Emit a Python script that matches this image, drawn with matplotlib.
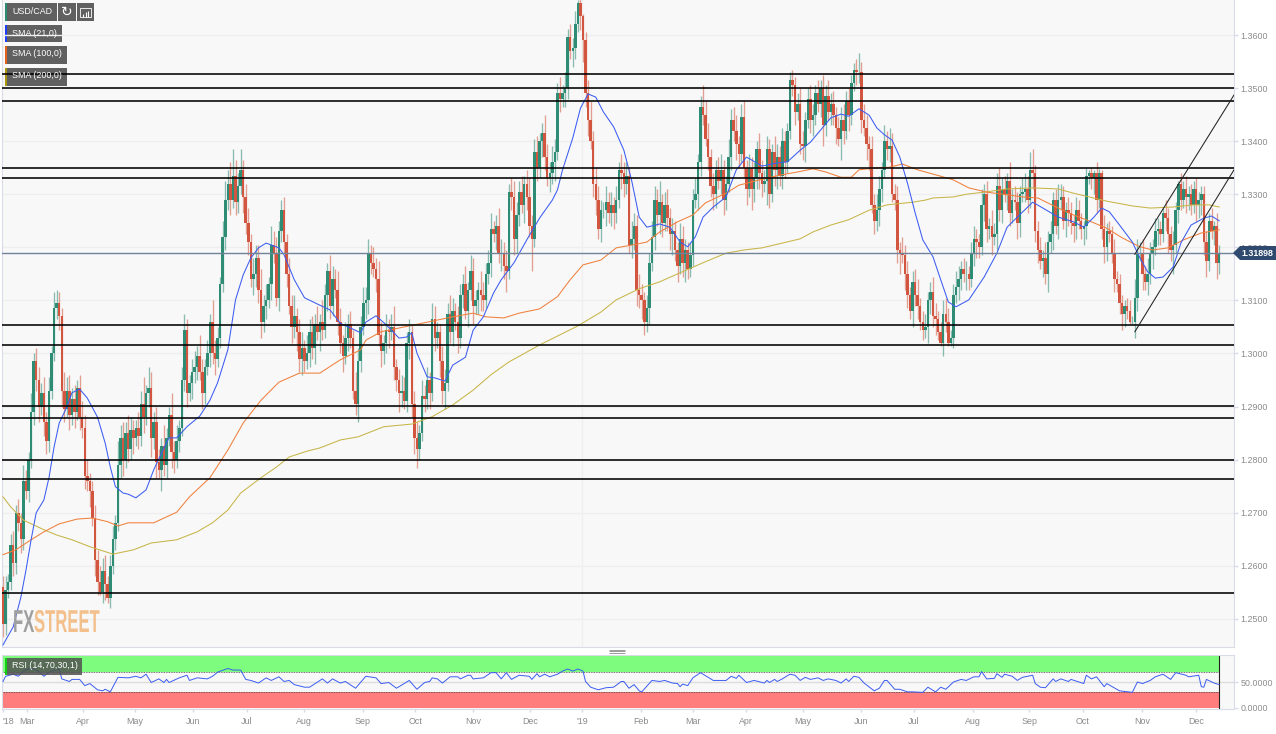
import matplotlib
matplotlib.use('Agg')
import matplotlib.pyplot as plt
import matplotlib.patheffects as pe
from matplotlib.patches import Rectangle, Polygon
from matplotlib.transforms import Affine2D

# all prices in pips above 1.0000 (2500 = 1.2500), one candle per row slot
first_open = 2560
closes = [
    2490,2555,2570,2640,2605,2700,2680,2650,2760,2740,
    2800,2890,2985,2950,2900,2925,2870,2835,2930,3000,
    3085,3095,3070,2930,2895,2930,2885,2915,2890,2935,
    2880,2860,2770,2760,2740,2690,2610,2570,2550,2590,
    2565,2540,2600,2650,2680,2790,2840,2800,2850,2820,
    2855,2840,2860,2845,2905,2880,2925,2935,2840,2870,
    2795,2780,2825,2790,2840,2885,2815,2800,2835,2860,
    2950,3045,2925,2945,2965,2975,2995,2965,2925,2975,
    3000,3060,3000,2990,3030,3130,3220,3290,3320,3290,
    3335,3285,3315,3345,3295,3245,3210,3140,3150,3180,
    3120,3060,3090,3100,3130,3205,3190,3105,3230,3270,
    3210,3150,3090,3050,3070,3040,2990,3010,2985,3000,
    3040,3010,3055,3040,3060,3045,3110,3155,3090,3140,
    3120,3060,3020,2995,3030,3055,3030,2930,2905,2985,
    3050,3095,3100,3190,3170,3160,3140,3035,3005,3020,
    3045,3040,3050,2975,2950,2925,2930,2910,3020,3040,
    2905,2840,2820,2850,2920,2915,2950,2925,3065,3030,
    3040,2985,2930,2945,3075,3040,3080,3060,3030,3110,
    3130,3080,3120,3155,3090,3100,3120,3110,3100,3150,
    3170,3235,3225,3240,3190,3190,3165,3155,3305,3295,
    3215,3260,3305,3280,3320,3295,3240,3215,3380,3350,
    3400,3415,3370,3330,3340,3360,3380,3490,3480,3490,
    3500,3596,3570,3575,3620,3660,3635,3590,3490,3440,
    3400,3320,3290,3235,3270,3270,3285,3265,3280,3265,
    3290,3345,3340,3320,3335,3205,3215,3240,3120,3110,
    3100,3060,3085,3170,3220,3290,3260,3285,3245,3280,
    3255,3225,3230,3195,3165,3215,3170,3195,3160,3185,
    3290,3300,3360,3465,3450,3405,3370,3315,3300,3345,
    3325,3345,3290,3320,3370,3440,3420,3395,3375,3445,
    3350,3310,3350,3310,3330,3385,3340,3320,3325,3385,
    3300,3380,3345,3370,3335,3400,3360,3420,3515,3505,
    3455,3470,3395,3390,3440,3480,3440,3450,3490,3470,
    3500,3430,3485,3455,3470,3450,3425,3405,3440,3420,
    3475,3450,3510,3535,3530,3530,3440,3425,3395,3385,
    3280,3250,3270,3310,3345,3400,3385,3390,3300,3290,
    3195,3190,3185,3150,3110,3080,3135,3110,3090,3060,
    3045,3050,3100,3115,3070,3065,3040,3020,3075,3060,
    3020,3030,3110,3125,3140,3160,3150,3150,3140,3190,
    3215,3210,3200,3280,3300,3235,3240,3220,3225,3315,
    3270,3310,3300,3325,3265,3290,3285,3245,3300,3305,
    3310,3290,3345,3340,3230,3195,3175,3180,3150,3210,
    3225,3290,3240,3290,3295,3250,3270,3265,3245,3240,
    3270,3250,3235,3240,3335,3340,3330,3340,3290,3340,
    3235,3200,3230,3225,3190,3140,3130,3095,3075,3090,
    3080,3060,3060,3105,3190,3190,3150,3135,3150,3190,
    3200,3230,3235,3225,3265,3255,3225,3195,3205,3270,
    3320,3290,3310,3295,3300,3280,3310,3280,3290,3300,
    3210,3175,3250,3230,3240,3170,3190,
]
upper_wick = [
    20,25,15,20,25,15,25,20,30,20,
    15,35,15,25,25,20,30,20,25,15,
    30,25,20,15,35,25,30,20,25,15,
    25,30,25,30,15,20,25,20,30,25,
    30,15,20,25,15,45,25,30,20,35,
    25,20,15,30,25,50,15,40,30,20,
    30,25,15,40,20,15,40,20,30,15,
    25,30,20,15,25,30,20,40,25,15,
    25,15,40,25,20,15,30,35,25,40,
    50,30,25,40,20,25,30,15,30,25,
    25,40,20,30,15,35,25,30,20,20,
    25,15,30,20,40,15,25,30,15,35,
    25,30,20,35,15,40,20,15,30,25,
    20,35,25,15,30,20,25,15,35,25,
    20,30,25,25,15,30,20,35,25,15,
    30,20,25,40,15,20,30,25,20,25,
    15,25,30,15,30,20,25,15,30,25,
    20,15,30,25,20,35,25,15,30,20,
    20,35,15,30,25,20,15,35,25,20,
    25,30,15,20,35,25,20,30,15,25,
    30,25,20,30,15,25,35,20,25,30,
    15,20,35,25,20,30,25,20,30,15,
    30,15,25,20,25,6,20,5,15,25,
    35,20,30,25,20,15,30,20,25,15,
    25,15,30,20,25,15,35,25,20,30,
    20,15,25,20,30,25,20,40,15,25,
    30,20,25,20,15,30,25,20,15,25,
    20,30,15,20,40,25,30,15,25,20,
    25,30,20,15,35,20,25,30,15,25,
    30,15,25,20,30,15,30,25,20,25,
    20,15,30,25,20,25,20,15,15,20,
    15,20,30,25,15,20,25,20,15,25,
    15,25,20,30,20,25,15,20,25,30,
    20,25,15,12,20,36,20,30,25,15,
    25,20,30,25,15,30,20,35,25,20,
    25,15,30,20,25,15,20,25,30,15,
    20,25,15,20,30,25,15,20,25,30,
    25,15,20,30,25,15,20,25,15,20,
    25,20,15,30,20,25,15,30,20,25,
    35,20,25,15,35,20,25,20,15,25,
    30,25,35,40,15,20,25,15,30,20,
    25,15,20,30,25,20,15,25,20,15,
    25,20,15,10,15,5,10,5,20,8,
    5,25,15,20,15,25,15,20,15,10,
    15,20,10,35,25,20,25,15,30,20,
    15,25,20,15,10,25,20,15,25,15,
    5,20,15,25,15,20,15,20,15,15,
    15,20,15,25,10,25,15,
]
lower_wick = [
    25,20,15,15,25,20,15,25,20,15,
    20,15,25,20,30,15,25,25,20,15,
    15,20,25,30,25,15,30,20,30,15,
    25,20,25,20,30,15,30,25,5,20,
    30,10,20,15,20,15,25,30,15,25,
    20,30,15,25,20,30,15,25,35,20,
    30,15,40,20,25,15,30,25,15,20,
    15,20,25,15,30,20,25,15,30,20,
    15,25,20,30,15,20,15,25,20,30,
    15,25,20,15,30,20,25,15,30,25,
    25,30,20,25,15,30,20,15,25,20,
    20,25,15,30,20,35,25,30,20,15,
    25,20,30,15,35,20,15,30,25,20,
    15,25,20,30,15,25,20,15,20,35,
    20,15,30,25,20,15,25,20,30,25,
    20,30,15,25,20,35,25,15,20,30,
    25,30,35,20,15,25,20,30,15,25,
    20,30,25,35,15,20,25,15,30,20,
    25,15,30,20,35,15,25,30,20,15,
    20,25,15,30,20,35,25,40,15,25,
    30,25,20,15,35,25,20,60,15,25,
    20,30,25,15,25,20,35,15,25,15,
    25,20,15,30,20,15,25,40,25,30,
    15,25,30,20,25,15,30,20,25,30,
    20,15,30,25,20,15,25,20,30,25,
    35,25,20,30,15,25,20,35,25,15,
    25,30,40,20,30,15,25,35,20,15,
    20,15,30,25,20,15,25,20,30,25,
    15,25,30,20,15,25,20,30,25,15,
    20,30,15,40,25,20,30,25,15,45,
    25,15,30,35,20,25,30,20,15,20,
    25,15,20,25,30,15,25,30,20,15,
    25,40,20,15,25,20,30,15,40,25,
    15,30,20,15,25,20,25,15,30,40,
    15,25,20,30,25,15,20,25,15,20,
    25,40,15,30,25,15,30,20,25,15,
    20,15,30,25,20,30,15,5,25,20,
    5,5,20,15,25,20,15,30,20,15,
    25,30,20,15,30,25,20,35,15,30,
    20,25,15,30,25,20,15,30,25,15,
    20,25,15,30,20,25,15,30,20,35,
    20,30,15,25,20,15,30,25,20,30,
    25,15,20,30,25,15,20,30,25,15,
    20,30,25,15,20,25,15,20,30,25,
    15,5,5,30,25,15,30,15,25,20,
    30,15,25,20,15,25,35,20,45,15,
    25,20,15,30,25,20,15,30,25,30,
    25,30,20,15,25,30,20,
]

sma21_idx = [0,4,7,9,11,13,16,18,20,22,25,27,30,33,37,40,42,44,47,49,52,56,59,63,65,68,72,77,81,84,88,91,94,97,100,103,108,110,114,118,124,128,132,136,140,142,146,150,155,158,160,162,166,169,173,176,181,184,188,192,195,200,205,210,215,217,219,223,226,229,232,235,239,243,246,249,252,257,261,265,268,271,274,278,283,287,291,295,297,303,307,312,316,320,324,328,331,335,339,342,345,348,351,354,357,360,364,367,370,373,378,384,389,393,397,403,407,413,419,423,427,430,433,437,442,445,448,451,454,458,461,465,470,473,476]
sma21_val = [2451,2485,2541,2592,2649,2700,2724,2766,2824,2869,2899,2926,2933,2916,2880,2831,2786,2749,2737,2735,2728,2743,2781,2822,2841,2841,2862,2882,2912,2945,3007,3101,3148,3180,3199,3208,3199,3186,3139,3105,3091,3082,3057,3048,3039,3059,3071,3054,3029,3031,3039,3001,2956,2954,2948,2978,2993,3044,3069,3114,3139,3171,3214,3255,3289,3308,3346,3406,3462,3489,3483,3455,3427,3383,3327,3257,3238,3244,3238,3210,3201,3220,3257,3276,3295,3346,3370,3359,3353,3359,3361,3383,3398,3421,3444,3451,3447,3461,3449,3425,3412,3402,3370,3321,3265,3214,3182,3139,3097,3088,3101,3144,3189,3238,3257,3285,3274,3257,3248,3238,3257,3274,3267,3242,3210,3180,3154,3142,3144,3163,3208,3242,3255,3259,3250]

sma100_idx = [0,5,11,16,22,29,35,41,45,49,59,68,73,81,88,94,101,108,116,124,132,140,142,148,159,168,176,184,189,196,202,210,217,222,227,234,240,248,252,257,264,270,275,283,288,296,304,311,317,322,328,332,335,340,347,352,358,367,372,378,385,393,399,405,413,419,425,432,438,445,450,456,462,469,476]
sma100_val = [2621,2630,2649,2664,2679,2688,2690,2683,2675,2681,2681,2701,2730,2766,2818,2869,2912,2946,2963,2963,2988,3007,3025,3041,3052,3061,3069,3076,3069,3067,3076,3084,3107,3139,3167,3176,3199,3206,3210,3229,3248,3261,3284,3302,3317,3327,3336,3342,3348,3342,3332,3332,3346,3349,3351,3357,3346,3334,3327,3312,3304,3299,3295,3293,3274,3261,3250,3236,3218,3201,3195,3199,3214,3227,3233]

sma200_idx = [0,3,8,16,21,27,34,43,51,58,68,76,82,88,93,101,107,112,119,124,132,139,149,160,168,176,184,191,198,210,225,234,240,249,257,265,274,283,290,297,305,312,317,324,331,339,346,356,361,364,372,377,384,393,403,413,419,432,442,449,458,466,472,476]
sma200_val = [2730,2711,2686,2668,2658,2649,2636,2622,2630,2643,2649,2664,2681,2705,2737,2766,2786,2805,2816,2822,2837,2843,2862,2867,2881,2903,2931,2960,2984,3016,3052,3078,3101,3122,3135,3152,3171,3189,3195,3199,3208,3216,3229,3242,3252,3270,3280,3285,3289,3293,3295,3300,3304,3310,3312,3310,3302,3287,3278,3274,3276,3280,3280,3276]

rsi_idx = [0,1,4,6,8,10,12,14,16,18,22,23,26,27,30,32,34,37,39,40,42,45,49,52,54,56,58,61,63,64,65,69,72,73,76,80,82,84,88,90,93,95,97,100,103,105,108,110,112,114,118,120,125,127,129,132,134,138,142,146,148,151,154,159,162,165,167,168,170,172,175,178,179,182,183,184,188,191,193,195,197,199,202,206,207,209,210,212,214,217,219,221,223,225,227,228,230,233,236,239,242,243,245,247,249,250,254,257,259,262,264,265,266,268,270,273,278,283,285,287,288,291,294,298,299,300,302,303,305,308,310,312,314,316,319,321,323,326,328,330,331,333,335,337,341,343,345,346,349,351,354,356,360,362,365,367,369,372,375,377,380,382,383,385,388,389,391,392,395,397,399,403,404,406,408,411,412,414,417,418,423,424,426,428,431,432,437,442,444,446,449,451,454,457,459,463,464,468,469,470,471,474,476]
rsi_val = [51,61,65,61,71,75,76,70,61,69,75,56,51,55,55,43,47,35,33,36,31,59,58,61,58,65,49,56,49,55,49,58,63,53,58,56,61,69,76,73,73,55,53,48,58,53,60,51,53,45,40,40,56,48,56,48,51,38,61,58,47,49,38,53,36,49,51,58,56,48,60,60,56,63,63,56,58,68,68,56,68,55,63,61,55,66,60,65,60,65,71,75,71,75,71,51,40,35,39,40,51,51,38,45,33,31,53,51,53,48,47,41,46,43,58,68,53,53,61,57,63,49,53,48,53,49,55,51,56,65,63,53,59,55,58,53,56,53,48,56,51,61,59,48,33,38,53,53,36,36,31,31,30,40,31,40,36,50,55,53,60,60,70,56,57,66,59,65,61,53,59,63,47,40,39,56,51,56,51,55,47,63,56,60,41,47,33,30,50,47,53,60,65,55,68,63,60,63,41,40,55,48,45]

level_lines = [3527,3500,3476,3349,3331,3054,3016,2902,2879,2799,2764,2548]
channel_lines = [([443,481.8],[3041,3346]), ([443,481.8],[3187,3487])]
last_price = 1.31898

price_ticks = [1.25,1.26,1.27,1.28,1.29,1.30,1.31,1.32,1.33,1.34,1.35,1.36]
month_ticks = [0,9.4,31.3,51.7,74.4,95.5,117.8,140.9,161.3,184,206.3,226.6,249.7,270,290.8,313,336,356.5,379.6,401.6,422.7,445.8,467]
month_labels = ["'18",'Mar','Apr','May','Jun','Jul','Aug','Sep','Oct','Nov','Dec',"'19",'Feb','Mar','Apr','May','Jun','Jul','Aug','Sep','Oct','Nov','Dec']

UP = '#2e8b74'
DOWN = '#d2553f'
PANEL = '#f8f8f8'
FRAME = '#d9dbe8'
GREY = '#8a8a8a'
LABEL = 6.4


def px(values):
    return [1 + v / 10000 for v in values]


class Stretch(pe.AbstractPathEffect):
    # the logo is a tall narrow face, none of the installed ones has that shape
    def __init__(self, sy):
        super().__init__()
        self.sy = sy

    def draw_path(self, renderer, gc, tpath, affine, rgbFace=None):
        renderer.draw_path(gc, tpath, Affine2D().scale(1, self.sy) + affine, rgbFace)


plt.rcParams['font.family'] = ['Liberation Sans', 'DejaVu Sans']
fig = plt.figure(figsize=(12.76, 7.34), dpi=100, facecolor='white')

# back layer in pixel coordinates: panels and legend chips sit under the lines
back = fig.add_axes([0, 0, 1, 1], zorder=0)
back.set_xlim(0, 1276)
back.set_ylim(734, 0)
back.axis('off')
back.add_patch(Rectangle((2, 0), 1232, 647, fc=PANEL, ec='none'))
back.add_patch(Rectangle((2, 655), 1232, 54, fc=PANEL, ec='none'))
chips = [(5, 3, 52, 18, '#2e8b74'), (5, 25, 57, 17, '#1f3fff'), (5, 46, 62, 18, '#e0601f'), (5, 68, 62, 18, '#a8960f')]
for x0, y0, w, h, accent in chips:
    back.add_patch(Rectangle((x0, y0), w, h, fc='#606060', ec='none'))
    back.add_patch(Rectangle((x0, y0), 2, h, fc=accent, ec='none'))
back.add_patch(Rectangle((58, 3), 18, 18, fc='#606060', ec='none'))
back.add_patch(Rectangle((77, 3), 17, 18, fc='#606060', ec='none'))

ax = fig.add_axes([2 / 1276, 1 - 647 / 734, 1232 / 1276, 647 / 734], zorder=1)
ax.patch.set_alpha(0)
ax.set_xlim(-0.39, 481.8)
ax.set_ylim(1.2447, 1.3666)

opens = [first_open] + closes[:-1]
idx = list(range(len(closes)))
tops = [max(o, c) for o, c in zip(opens, closes)]
bottoms = [min(o, c) for o, c in zip(opens, closes)]
highs = [t + u for t, u in zip(tops, upper_wick)]
lows = [b - d for b, d in zip(bottoms, lower_wick)]
colors = [UP if c >= o else DOWN for o, c in zip(opens, closes)]

ax.set_yticks(price_ticks)
ax.set_yticklabels(['%.4f' % p for p in price_ticks])
ax.grid(axis='y', color='#eeeeee', lw=1)
ax.set_axisbelow(True)
ax.axvline(month_ticks[11], color='#efefef', lw=1, zorder=0)
ax.vlines(idx, px(lows), px(highs), colors=colors, lw=0.95, alpha=0.55, zorder=2)
ax.bar(idx, [(t - b) / 10000 for t, b in zip(tops, bottoms)], bottom=px(bottoms),
       width=0.98, color=colors, lw=0, zorder=3)

ax.plot(sma200_idx, px(sma200_val), color='#c8b548', lw=0.75, zorder=4)
ax.plot(sma100_idx, px(sma100_val), color='#f0803c', lw=0.75, zorder=4)
ax.plot(sma21_idx, px(sma21_val), color='#3b5cf2', lw=0.75, zorder=4)
ax.axhline(last_price, color='#71829b', lw=1, zorder=4)
for level in px(level_lines):
    ax.axhline(level, color='black', lw=1.15, zorder=5)
for xs, ys in channel_lines:
    ax.plot(xs, px(ys), color='#222222', lw=0.75, zorder=5)

ax.set_xticks([])
ax.yaxis.tick_right()
ax.tick_params(axis='y', length=3, width=1, color=FRAME, labelcolor=GREY, labelsize=LABEL, pad=1.5)
ax.spines['top'].set_visible(False)
for side in ['left', 'right', 'bottom']:
    ax.spines[side].set_color(FRAME)

rsi = fig.add_axes([2 / 1276, 1 - 709 / 734, 1232 / 1276, 54 / 734], zorder=1)
rsi.patch.set_alpha(0)
rsi.set_xlim(-0.39, 481.8)
rsi.set_ylim(-2, 102)
rsi.fill_between([-0.39, idx[-1]], 70, 100, color='#7dfc7d', lw=0, zorder=1)
rsi.fill_between([-0.39, idx[-1]], 0, 30, color='#ff7d7d', lw=0, zorder=1)
rsi.plot([-0.39, idx[-1]], [70, 70], color='#444444', lw=0.6, ls=(0, (1, 1)), zorder=2)
rsi.plot([-0.39, idx[-1]], [30, 30], color='#444444', lw=0.6, ls=(0, (1, 1)), zorder=2)
rsi.plot([idx[-1], idx[-1]], [0, 100], color='#222222', lw=0.8, zorder=2)
rsi.axhline(50, color='#dddddd', lw=1, zorder=0)
rsi.plot(rsi_idx, rsi_val, color='#3b5cf2', lw=0.7, zorder=3)
rsi.set_yticks([0, 50])
rsi.set_yticklabels(['0.0000', '50.0000'])
rsi.yaxis.tick_right()
rsi.set_xticks(month_ticks)
rsi.set_xticklabels(month_labels)
rsi.get_xticklabels()[0].set_ha('left')
rsi.tick_params(axis='y', length=3, width=1, color=FRAME, labelcolor=GREY, labelsize=LABEL, pad=1.5)
rsi.tick_params(axis='x', length=2, width=1, color=FRAME, labelcolor=GREY, labelsize=LABEL, pad=3.5)
for side in ['top', 'left', 'right', 'bottom']:
    rsi.spines[side].set_color(FRAME)

# front layer for the labels that stay readable over the chart
front = fig.add_axes([0, 0, 1, 1], zorder=2)
front.set_xlim(0, 1276)
front.set_ylim(734, 0)
front.axis('off')
for x0, y0, label in [(12, 11, 'USD/CAD'), (12, 33, 'SMA (21,0)'), (12, 54, 'SMA (100,0)'), (12, 76, 'SMA (200,0)')]:
    front.text(x0, y0, label, color='white', fontsize=LABEL, va='center', ha='left')
front.text(67, 12, '\u21bb', color='white', fontsize=10, ha='center', va='center', family='DejaVu Sans')
front.add_patch(Rectangle((80, 8), 11, 9, fc='none', ec='white', lw=0.6))
front.vlines([83, 85.5, 88], [14, 12, 11], [17, 17, 17], color='white', lw=0.8)

front.add_patch(Rectangle((5, 658), 77, 17, fc='#505050', ec='none', alpha=0.85))
front.add_patch(Rectangle((5, 658), 2, 17, fc='#10d010', ec='none'))
front.text(12, 666, 'RSI (14,70,30,1)', color='white', fontsize=LABEL, va='center', ha='left')

front.add_patch(Polygon([(1233, 253), (1240, 246), (1276, 246), (1276, 260), (1240, 260)], fc='#2f4a6e', ec='none'))
front.text(1241, 253, '%.5f' % last_price, color='white', fontsize=LABEL, fontweight='bold', va='center', ha='left')

front.hlines([649.5, 651, 652.5], 609, 625, color='#9a9a9a', lw=0.7)

front.text(13, 632, 'FX', color='#9f9f9f', fontsize=12, fontweight='bold', ha='left', va='baseline',
           path_effects=[Stretch(1.9)])
front.text(34, 632, 'STREET', color='#f3c08c', fontsize=12, fontweight='bold', ha='left', va='baseline',
           path_effects=[Stretch(1.9)])

fig.savefig('out.png', dpi=100, facecolor='white')
